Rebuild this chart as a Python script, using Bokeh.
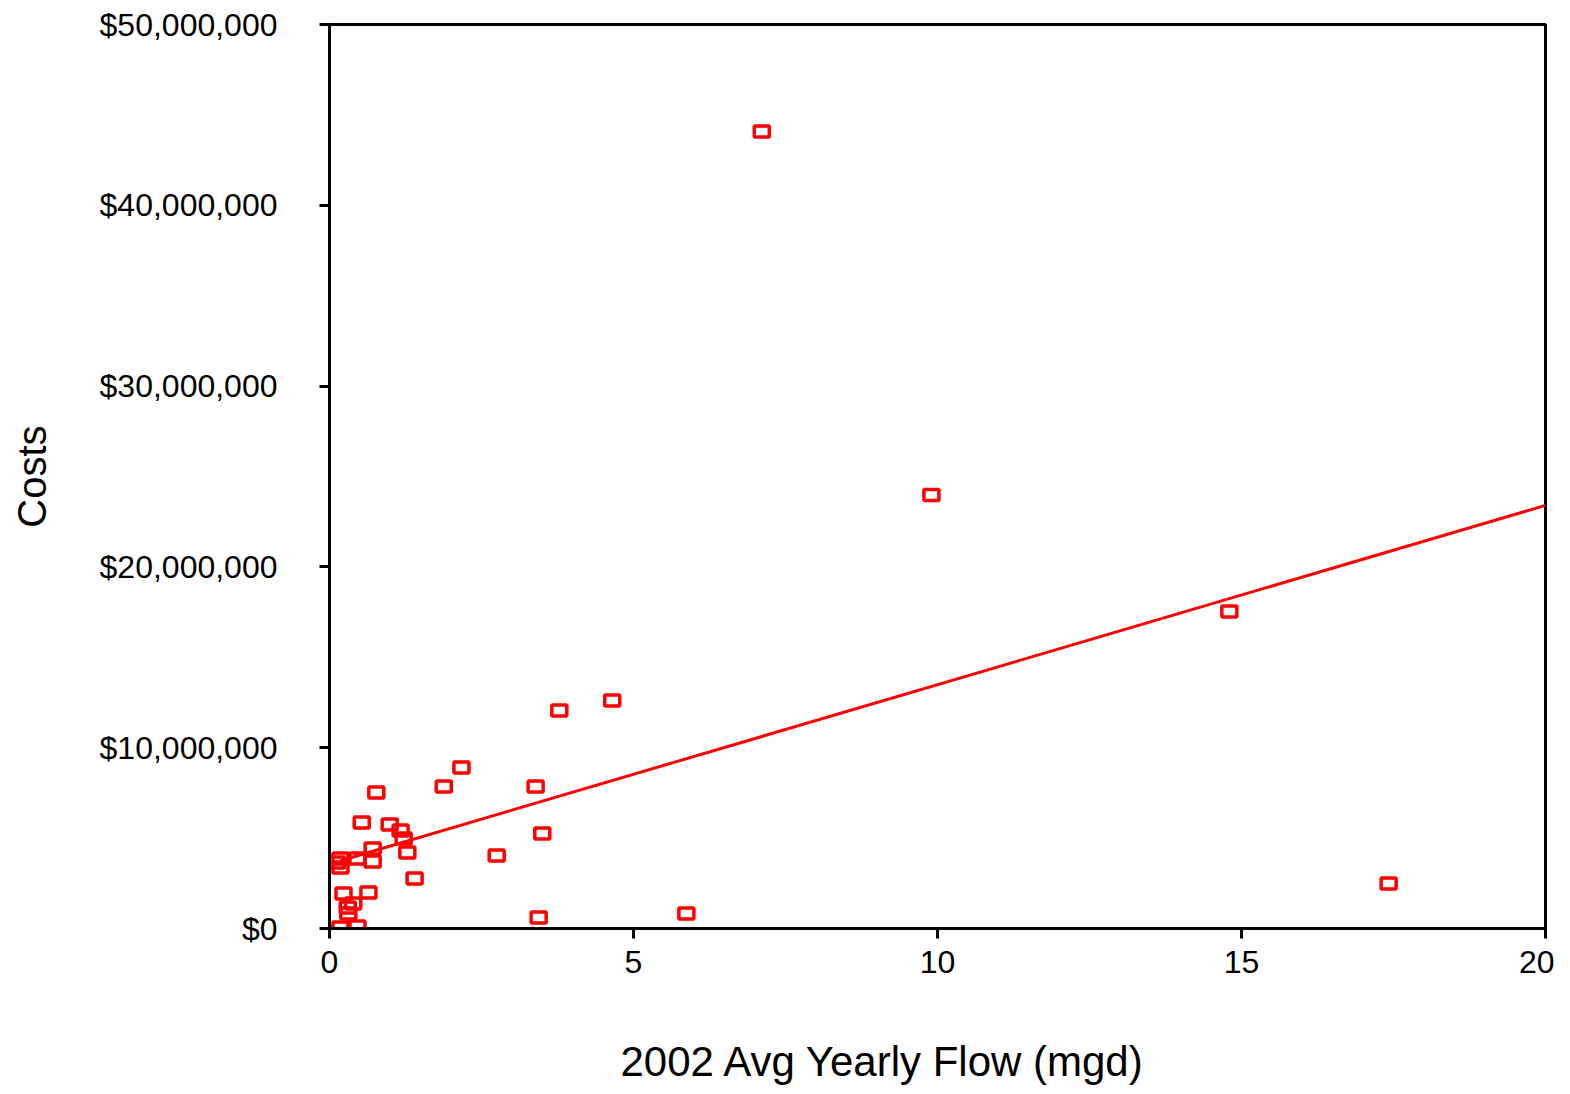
from bokeh.plotting import figure
from bokeh.models import Range1d, NumeralTickFormatter, FixedTicker, Title
from bokeh.embed import file_html
from bokeh.resources import INLINE

# Data (flow in mgd, costs in $)
flow = [7.11, 9.90, 14.80, 17.42, 4.65, 3.78, 2.17, 1.88, 3.39, 0.77, 3.50, 2.75, 1.40,
        5.87, 3.44, 0.53, 0.99, 1.17, 1.22, 1.28, 0.71, 0.71, 0.46, 0.18, 0.18, 0.12,
        0.64, 0.23, 0.30, 0.39, 0.31, 0.18, 0.46]
costs_m = [44.08, 23.97, 17.53, 2.49, 12.61, 12.06, 8.90, 7.85, 7.85, 7.52, 5.25, 4.04, 2.77,
           0.83, 0.61, 5.86, 5.75, 5.42, 4.98, 4.20, 4.42, 3.71, 3.87, 3.87, 3.37, 3.65,
           1.99, 1.94, 1.16, 1.38, 0.83, 0.05, 0.11]
costs = [c * 1e6 for c in costs_m]

trend_x = [0.18, 20.0]
trend_y = [3.75e6, 23.4e6]

x_ticks = [0, 5, 10, 15, 20]
y_ticks = [0, 10e6, 20e6, 30e6, 40e6, 50e6]

FONT = "Liberation Sans"

p = figure(width=1554, height=1088, output_backend="svg", toolbar_location=None,
           x_range=Range1d(0, 20), y_range=Range1d(0, 50e6),
           min_border_left=329, min_border_right=9, min_border_top=24, min_border_bottom=160)
p.frame_width = 1216
p.frame_height = 904

p.xgrid.visible = False
p.ygrid.visible = False
p.outline_line_color = "black"
p.outline_line_width = 3
p.outline_line_alpha = 1.0

for ax in (p.xaxis[0], p.yaxis[0]):
    ax.axis_line_color = "black"
    ax.axis_line_width = 3
    ax.major_tick_line_color = "black"
    ax.major_tick_line_width = 3
    ax.major_tick_out = 10
    ax.major_tick_in = 0
    ax.minor_tick_line_color = None
    ax.major_label_text_font = FONT
    ax.major_label_text_font_size = "32px"
    ax.major_label_text_color = "black"

p.xaxis.ticker = FixedTicker(ticks=x_ticks)
p.yaxis.ticker = FixedTicker(ticks=y_ticks)
p.yaxis.formatter = NumeralTickFormatter(format="$0,0")
p.yaxis.major_label_standoff = 42
p.xaxis.major_label_standoff = 12

p.yaxis.axis_label = "Costs"
p.yaxis.axis_label_text_font = FONT
p.yaxis.axis_label_text_font_size = "40px"
p.yaxis.axis_label_text_font_style = "normal"
p.yaxis.axis_label_text_color = "black"
p.yaxis.axis_label_standoff = 43

p.add_layout(Title(text="2002 Avg Yearly Flow (mgd)", align="left", offset=291,
                   standoff=120, text_font=FONT, text_font_size="42px",
                   text_font_style="normal", text_color="black"), "below")

p.line(trend_x, trend_y, line_color="red", line_width=3)
p.rect(flow, costs, width=15, height=11, width_units="screen", height_units="screen",
       fill_color=None, line_color="red", line_width=3.5)

open("out.html", "w").write(file_html(p, INLINE))
